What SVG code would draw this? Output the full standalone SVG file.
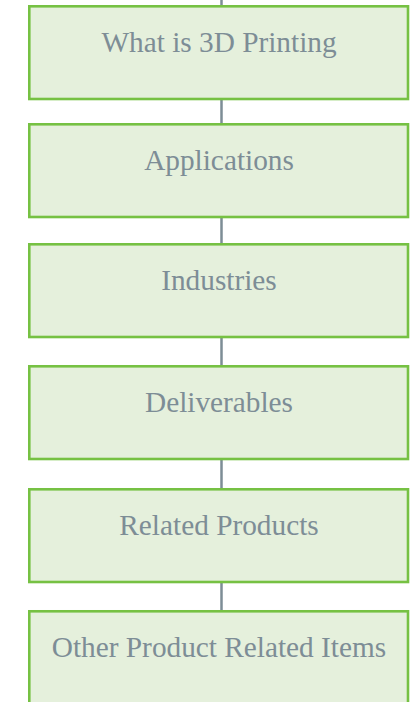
<svg xmlns="http://www.w3.org/2000/svg" width="410" height="702" viewBox="0 0 410 702">
<style>
.box{fill:#e5f0dc;stroke:#76c143;stroke-width:2.6}
.lbl{font-family:"Liberation Serif","Times New Roman",serif;font-size:29.3px;fill:#7d8d96;text-anchor:middle}
.con{stroke:#7d8d96;stroke-width:2.5;fill:none}
</style>
<rect width="410" height="702" fill="#ffffff"/>
<g id="connectors">
<line class="con" x1="221.5" y1="0" x2="221.5" y2="6"/>
<line class="con" x1="221.5" y1="100" x2="221.5" y2="124"/>
<line class="con" x1="221.5" y1="218" x2="221.5" y2="244"/>
<line class="con" x1="221.5" y1="338" x2="221.5" y2="366"/>
<line class="con" x1="221.5" y1="460" x2="221.5" y2="489"/>
<line class="con" x1="221.5" y1="583" x2="221.5" y2="611"/>
</g>
<g id="node1"><rect class="box" x="29.3" y="6.3" width="378.7" height="92.7"/><text class="lbl" x="219" y="51.5">What is 3D Printing</text></g>
<g id="node2"><rect class="box" x="29.3" y="124.3" width="378.7" height="92.7"/><text class="lbl" x="219" y="169.5">Applications</text></g>
<g id="node3"><rect class="box" x="29.3" y="244.3" width="378.7" height="92.7"/><text class="lbl" x="219" y="289.5">Industries</text></g>
<g id="node4"><rect class="box" x="29.3" y="366.3" width="378.7" height="92.7"/><text class="lbl" x="219" y="411.5">Deliverables</text></g>
<g id="node5"><rect class="box" x="29.3" y="489.3" width="378.7" height="92.7"/><text class="lbl" x="219" y="534.5">Related Products</text></g>
<g id="node6"><rect class="box" x="29.3" y="611.3" width="378.7" height="92.7"/><text class="lbl" x="219" y="656.5">Other Product Related Items</text></g>
</svg>
